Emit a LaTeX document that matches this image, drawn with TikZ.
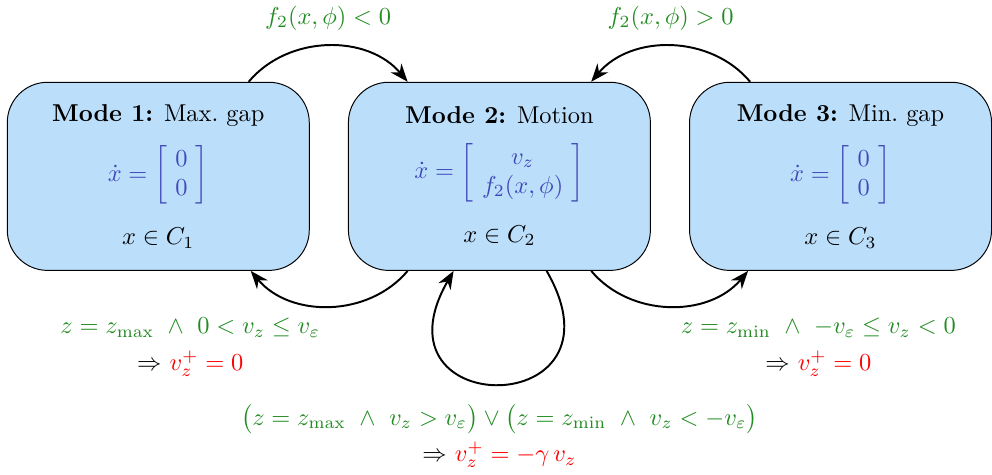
\documentclass[tikz,border=0pt]{standalone}
\usepackage{amsmath,amssymb}
\usepackage{xcolor}
\usepackage{tikz}
\usetikzlibrary{arrows.meta,calc,positioning}
\definecolor{modefill}{RGB}{187,222,251}
\definecolor{flowblue}{RGB}{63,72,185}
\definecolor{guardgreen}{RGB}{34,139,34}
\definecolor{resetred}{RGB}{255,0,0}
\setlength{\arraycolsep}{3.4pt}

\begin{document}
\begin{tikzpicture}[
    font=\normalsize,
    node distance=5.5mm and 5.5mm,
    mode/.style={draw, fill=modefill, rounded corners=5.8mm, align=center, minimum width=43.5mm, minimum height=27.1mm, inner sep=0pt},
    guard/.style={align=center, text=guardgreen},
    arrow/.style={-{Stealth[length=2.6mm,width=2mm]}, thick}
  ]
    \useasboundingbox (0,0) rectangle (14.29,-6.83);
    \node[mode] (mode1) at (2.28,-2.54) {\textbf{Mode 1:} Max.\ gap\\[7pt]
      {\color{flowblue}$\dot{x}=\left[\begin{array}{c}0\\0\end{array}\right]$}\\[8.6pt] $x\in C_1$};
    \node[mode, right=of mode1] (mode2) {\textbf{Mode 2:} Motion\\[7pt]
      {\color{flowblue}$\dot{x}=\left[\begin{array}{c}v_z\\f_2(x,\phi)\end{array}\right]$}\\[8.6pt] $x\in C_2$};
    \node[mode, right=of mode2] (mode3) {\textbf{Mode 3:} Min.\ gap\\[7pt]
      {\color{flowblue}$\dot{x}=\left[\begin{array}{c}0\\0\end{array}\right]$}\\[8.6pt] $x\in C_3$};
    % guards and resets below the modes
    \node[guard, below=5.5mm of mode1, xshift=4.6mm] (jump12) {$z=z_{\max}\ \wedge\ 0<v_z\le v_\varepsilon$\\[3pt]
      {\color{black}$\Rightarrow$} {\color{resetred}$v_z^+=0$}};
    \node[guard, below=5.5mm of mode3, xshift=-3.2mm] (jump32) {$z=z_{\min}\ \wedge\ -v_\varepsilon\le v_z<0$\\[3pt]
      {\color{black}$\Rightarrow$} {\color{resetred}$v_z^+=0$}};
    \node[guard, below=18mm of mode2] (bounce) {$\big(z=z_{\max}\ \wedge\ v_z>v_\varepsilon\big)\vee\big(z=z_{\min}\ \wedge\ v_z<-v_\varepsilon\big)$\\[3pt]
      {\color{black}$\Rightarrow$} {\color{resetred}$v_z^+=-\gamma\,v_z$}};
    \draw[arrow] ([xshift=-8.8mm]mode1.north east) to[bend left=50]
      node[midway, above=1mm, guard] (free1) {$f_2(x,\phi)<0$} ([xshift=8.6mm]mode2.north west);
    \draw[arrow] ([xshift=8.8mm]mode3.north west) to[bend right=50]
      node[midway, above=1mm, guard] (free3) {$f_2(x,\phi)>0$} ([xshift=-8.6mm]mode2.north east);
    \draw[arrow] ([xshift=8.6mm]mode2.south west) to[bend left=50] ([xshift=-8.5mm]mode1.south east);
    \draw[arrow] ([xshift=-8.6mm]mode2.south east) to[bend right=50] ([xshift=8.5mm]mode3.south west);
    \draw[arrow] ([xshift=6.8mm]mode2.south) to[out=-60, in=-120, looseness=4.8] ([xshift=-6.6mm]mode2.south);
  \end{tikzpicture}
\end{document}
